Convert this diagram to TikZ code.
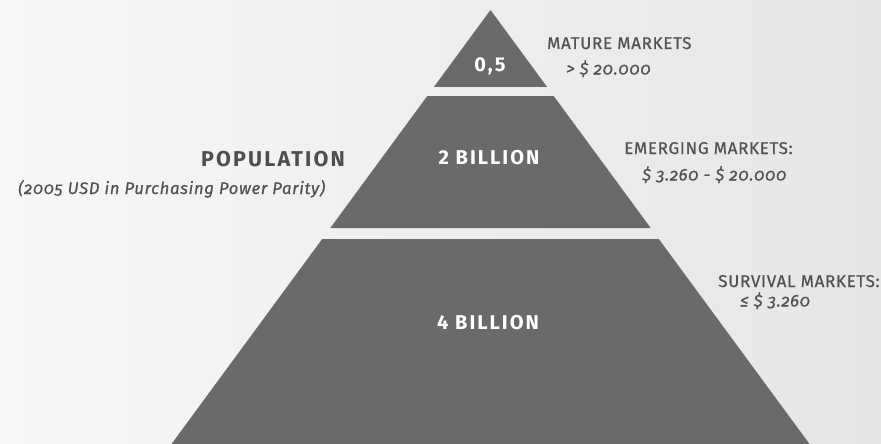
\documentclass[tikz,border=0pt]{standalone}
\usepackage{fontspec}
\setmainfont{Fira Sans}
\newfontfamily\widebold[LetterSpace=10]{Fira Sans}
\newfontfamily\mktfont[LetterSpace=4,FakeBold=0.6]{Fira Sans}
\newfontfamily\numfont[Numbers=OldStyle,LetterSpace=4,FakeBold=0.6]{Fira Sans}
\definecolor{pyr}{HTML}{6A6A6A}
\definecolor{lbl}{HTML}{525252}
\definecolor{popc}{HTML}{4E4E4E}
\definecolor{bgl}{HTML}{F7F7F7}
\definecolor{bgr}{HTML}{E6E6E6}
\tikzset{
  level/.style={fill=pyr, draw=none},
  inlabel/.style={text=white, font=\widebold\bfseries\fontsize{20}{23}\selectfont, inner sep=0pt},
  mkt/.style={text=lbl, font=\mktfont\fontsize{17}{20}\selectfont, anchor=base west, inner sep=0pt},
  val/.style={text=lbl, font=\numfont\itshape\fontsize{17}{20}\selectfont, anchor=base west, inner sep=0pt},
}
\begin{document}
\begin{tikzpicture}[x=1pt,y=-1pt]
\useasboundingbox (0,0) rectangle (881,444);
\shade[left color=bgl, right color=bgr] (0,0) rectangle (881,444);
% pyramid levels
\fill[level] (490.5,10) -- (547.1,87) -- (433.9,87) -- cycle;
\fill[level] (427.3,96) -- (553.7,96) -- (650.7,228) -- (330.3,228) -- cycle;
\fill[level] (322.2,239) -- (658.8,239) -- (809.5,444) -- (171.5,444) -- cycle;
% labels inside
\node[inlabel] (top) at (490,66) {0,5};
\node[inlabel] (mid) at (489,158) {2 BILLION};
\node[inlabel] (bot) at (488,323) {4 BILLION};
% market labels
\node[mkt] (mature) at (547,49) {MATURE MARKETS};
\node[val] (matureval) at (566,74.5) {> \$ 20.000};
\node[mkt] (emerg) at (624,154) {EMERGING MARKETS:};
\node[val] (emergval) at (642,180.5) {\$ 3.260 - \$ 20.000};
\node[mkt] (surv) at (718,287) {SURVIVAL MARKETS:};
\node[val] (survval) at (740,306.5) {≤ \$ 3.260};
% population title
\node[text=popc, font=\widebold\bfseries\fontsize{21.5}{24}\selectfont, anchor=base east, inner sep=0pt] (pop) at (345,166.5) {POPULATION};
\node[val, font=\numfont\itshape\fontsize{16.7}{20}\selectfont, anchor=base west] (ppp) at (18,194) {(2005 USD in Purchasing Power Parity)};
\end{tikzpicture}
\end{document}
